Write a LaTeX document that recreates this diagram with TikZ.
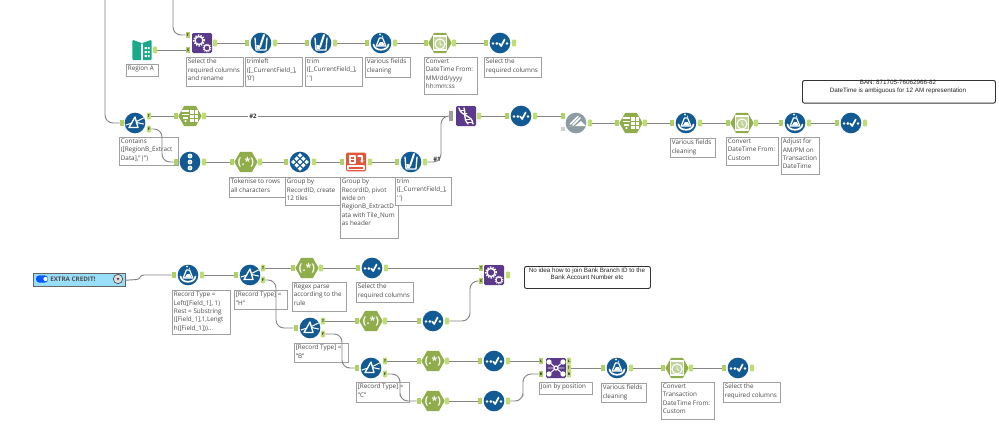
\documentclass[tikz,border=0pt]{standalone}
\usepackage{fontspec}
\setmainfont{Open Sans}
\newfontfamily\notefont{Liberation Sans}
\usetikzlibrary{shapes.geometric}
\definecolor{tblue}{HTML}{125A94}
\definecolor{tgreen}{HTML}{8FAD4B}
\definecolor{tpurple}{HTML}{5B3A8C}
\definecolor{tteal}{HTML}{1BA98C}
\definecolor{tred}{HTML}{E0573A}
\definecolor{tgray}{HTML}{8B9CA2}
\definecolor{tabg}{HTML}{BEDD75}
\definecolor{tabi}{HTML}{B0CF66}
\definecolor{conn}{HTML}{858585}
\definecolor{boxc}{HTML}{A0A0A0}
\definecolor{txtc}{HTML}{4A4A4A}
\tikzset{
  wire/.style={draw=conn,line width=0.7pt},
  wirebent/.style={wire,rounded corners=6pt},
  bluetool/.style={circle,fill=tblue,inner sep=0,minimum size=15.5pt},
  hextool/.style={regular polygon,regular polygon sides=6,fill=tgreen,inner sep=0,minimum size=17.5pt},
  squaretool/.style={rectangle,rounded corners=1pt,fill=tpurple,inner sep=0,minimum size=15pt},
  redtool/.style={rectangle,rounded corners=1pt,fill=tred,inner sep=0,minimum width=15pt,minimum height=14pt},
  graytool/.style={circle,fill=tgray,inner sep=0,minimum size=15.5pt},
  booktool/.style={rectangle,fill=tteal,rounded corners=.8pt,inner sep=0,minimum width=14.5pt,minimum height=15pt},
  intabst/.style={rectangle,fill=tabi,inner sep=0,minimum width=3pt,minimum height=4.6pt,font=\fontsize{2.6}{3}\selectfont\bfseries,text=black},
  outtabst/.style={rectangle,rounded corners=.8pt,fill=tabg,inner sep=0,minimum width=3.2pt,minimum height=5.2pt,font=\fontsize{2.6}{3}\selectfont\bfseries,text=black},
  lblst/.style={draw=boxc,line width=.8pt,fill=white,inner sep=1pt,anchor=north west,text=txtc,font=\fontsize{4.75}{6.25}\selectfont},
  notest/.style={draw=black!80,line width=.7pt,rounded corners=1.5pt,inner sep=0,anchor=north west,fill=white},
  notetxt/.style={font=\notefont\fontsize{4.7}{5.6}\selectfont,align=center,text=black!85,inner sep=0},
  wirelbl/.style={font=\fontsize{4.6}{5}\selectfont\bfseries,fill=white,inner sep=.6pt,text=black!80},
  gly/.style={draw=white,line width=.8pt,line cap=round,line join=round},
  glyf/.style={fill=white}
}
% tabs
\newcommand{\intab}[4]{\node[intabst] (#1) at (#2,#3) {#4};}
\newcommand{\outtab}[4]{\node[outtabst] (#1) at (#2,#3) {#4};}
\newcommand{\iotabs}[3]{\intab{#1-i}{#2-14}{#3}{}\outtab{#1-o}{#2+14}{#3}{}}
% labels
\newcommand{\lbl}[6]{\node[lblst] (#1) at (#2,#3) {\parbox[t][\dimexpr #5pt*3/4-2pt\relax][t]{\dimexpr #4pt*3/4-2pt\relax}{\raggedright #6}};}
% glyphs
\newcommand{\gSelect}[1]{\begin{scope}[shift={(#1)}]
  \fill[glyf] (-7,0.5) circle (1.1pt) (-3.2,0.5) circle (1.1pt) (7,0.5) circle (1.1pt);
  \draw[gly,line width=1.3pt] (-0.8,0.5) -- (1.2,3) -- (4.6,-3.5);
\end{scope}}
\newcommand{\gFlask}[1]{\begin{scope}[shift={(#1)}]
  \fill[glyf] (-1,-8.5) circle (.8pt) (1.5,-6.8) circle (.5pt);
  \draw[gly,line width=.9pt] (-1.6,-5) -- (1.6,-5) -- (4.8,3) -- (-4.8,3) -- cycle;
  \fill[glyf] (-3.2,2.6) -- (-1,-1) -- (2,-1) -- (3.5,2.6) -- cycle;
  \draw[gly,line width=1.3pt] (-7.5,1.5) .. controls (-6.5,8.5) and (6.5,8.5) .. (7.5,1.5);
\end{scope}}
\newcommand{\gTrim}[1]{\begin{scope}[shift={(#1)}]
  \draw[gly,line width=1pt] (-6,-5) -- (-5,7) -- (5,7) -- (6,-5);
  \draw[gly,line width=1.5pt] (-1,4) -- (3,-8);
  \fill[glyf] (-4.6,2) -- (-4.2,6.2) -- (-1,6.2) -- (-2,2) -- cycle;
\end{scope}}
\newcommand{\gFilter}[1]{\begin{scope}[shift={(#1)}]
  \draw[gly,line width=1pt] (-6,4.5) -- (0,-6) -- (3,4.5) -- cycle;
  \draw[gly,line width=.8pt] (-9,2) -- (-3,0) (1.5,-1.5) -- (8.5,-5) (1.5,-.5) -- (8.5,1);
\end{scope}}
\newcommand{\gRecId}[1]{\begin{scope}[shift={(#1)}]
  \fill[glyf] (0,-6) circle (1.8pt) (0,0) circle (1.8pt) (0,6) circle (1.8pt);
  \fill[tblue] (0,-6) circle (.5pt) (0,0) circle (.5pt) (0,6) circle (.5pt);
\end{scope}}
\newcommand{\gTile}[1]{\begin{scope}[shift={(#1)}]
  \foreach \a/\b in {0/-6.6,-3.3/-3.3,3.3/-3.3,-6.6/0,0/0,6.6/0,-3.3/3.3,3.3/3.3,0/6.6}
    \fill[glyf] (\a-2.3,\b) -- (\a,\b-2.3) -- (\a+2.3,\b) -- (\a,\b+2.3) -- cycle;
\end{scope}}
\newcommand{\gRegex}[1]{\node[text=white,font=\fontsize{8}{9}\selectfont\bfseries,inner sep=0] at (#1) {(.*)};}
\newcommand{\gTable}[1]{\begin{scope}[shift={(#1)}]
  \draw[gly,line width=.9pt] (-8,-5) -- (-1.5,-5) (-7.5,-1.5) -- (-1.5,-1.5) (-6.5,2) -- (-2.5,2) (-5,5) -- (-4,5);
  \fill[glyf] (0,-6) rectangle (8,6);
  \draw[tgreen,line width=.5pt] (0,-2) -- (8,-2) (0,2) -- (8,2) (4,-6) -- (4,6);
\end{scope}}
\newcommand{\gDate}[1]{\begin{scope}[shift={(#1)}]
  \fill[tgreen!55!white] (-7,-7) rectangle (7,7);
  \draw[gly,line width=.8pt] (-6.5,-7) -- (6.5,-7) -- (6.5,7) -- (-6.5,7) -- cycle;
  \draw[gly,line width=.8pt] (0,1) circle (3.8pt);
  \draw[gly,line width=.5pt] (0,-2) -- (0,1) -- (2,2.5);
\end{scope}}
\newcommand{\gGears}[1]{\begin{scope}[shift={(#1)}]
  \draw[gly,line width=1pt] (-3,-2.5) circle (3pt);
  \draw[gly,line width=1.2pt,line cap=butt,dash pattern=on 1pt off 1pt] (-3,-2.5) circle (4pt);
  \draw[gly,line width=.7pt] (5,5) circle (2.2pt);
  \draw[gly,line width=.8pt,line cap=butt,dash pattern=on .8pt off .8pt] (5,5) circle (2.9pt);
\end{scope}}
\newcommand{\gDna}[1]{\begin{scope}[shift={(#1)}]
  \draw[gly,line width=1pt] (-7,-8) .. controls (-5,1) and (6,-2) .. (7,8);
  \draw[gly,line width=1pt] (-2,-8) .. controls (0,-2) and (-3,3) .. (2,8);
  \draw[gly,line width=.6pt] (-5,-6) -- (-1,-6) (-3,-3) -- (1,-3) (0,3) -- (4,3) (2,6) -- (6,6);
\end{scope}}
\newcommand{\gJoin}[1]{\begin{scope}[shift={(#1)}]
  \draw[gly,line width=.7pt] (-7,-6) -- (7,6) (-7,6) -- (7,-6) (-8,0) -- (8,0);
  \fill[glyf] (-7,-6) circle (2pt) (7,-6) circle (2pt) (-7,6) circle (2pt) (7,6) circle (2pt) (0,0) circle (2pt);
  \fill[tpurple] (0,0) circle (1.1pt);
\end{scope}}
\newcommand{\gCross}[1]{\begin{scope}[shift={(#1)}]
  \draw[gly,line width=.9pt] (-6,-6) rectangle (-1,1);
  \draw[gly,line width=.8pt] (-6,-2.5) -- (-1,-2.5);
  \draw[gly,line width=.9pt] (2,-6) -- (6,-6) -- (6,-1);
  \fill[glyf] (4,-1.5) -- (8,-1.5) -- (6,1) -- cycle;
  \draw[gly,line width=.9pt] (-8,4) rectangle (8,7.5);
\end{scope}}
\newcommand{\gAuto}[1]{\begin{scope}[shift={(#1)}]
  \draw[gly,line width=1.3pt] (-5.5,1) -- (2,-6.5);
  \draw[gly,line width=1.3pt] (-3,2) -- (4,-5);
  \fill[glyf] (-8,3) -- (-1,3) -- (5,-2) -- (9.8,3) -- cycle;
\end{scope}}
\newcommand{\gBook}[1]{\begin{scope}[shift={(#1)}]
  \fill[white] (-10,-10.5) -- (0,-7) -- (10,-10.5) -- cycle;
  \draw[gly,line width=.9pt] (0,-6) -- (0,10);
  \fill[glyf] (2.5,-3) rectangle (5,-1) (6,-3) rectangle (7.5,-1) (2.5,1) rectangle (5,3) (6,1) rectangle (7.5,3) (2.5,5) rectangle (5,7) (6,5) rectangle (7.5,7);
\end{scope}}
% tool builders
\newcommand{\ctool}[4]{\node[bluetool] (#1) at (#2,#3) {};#4{#1}}
\newcommand{\htool}[4]{\node[hextool] (#1) at (#2,#3) {};#4{#1}}
\begin{document}
\begin{tikzpicture}[x=0.75pt,y=-0.75pt]
\useasboundingbox (0,0) rectangle (999,425);
\fill[white] (0,0) rectangle (999,425);
\coordinate (top1) at (105,0);
\coordinate (top2) at (173,0);

% ---------- row 1
\node[booktool] (book) at (142,50) {};\gBook{book}
\outtab{book-o}{155}{50}{}
\node[squaretool] (app1) at (202,43) {};\gGears{app1}
\intab{app1-t}{188}{35}{T}\intab{app1-s}{188}{50}{S}\outtab{app1-o}{215}{43}{}
\ctool{trl}{261}{43}{\gTrim}\iotabs{trl}{261}{43}
\ctool{trm}{321}{43}{\gTrim}\iotabs{trm}{321}{43}
\ctool{fl1}{381}{43}{\gFlask}\iotabs{fl1}{381}{43}
\htool{dt1}{440}{43}{\gDate}\iotabs{dt1}{440}{43}
\ctool{sl1}{500}{43}{\gSelect}\iotabs{sl1}{500}{43}
\lbl{lb-regiona}{126}{64}{32}{12}{Region A}
\lbl{lb-app1}{186}{57}{57}{29}{Select the\\required columns\\and rename}
\lbl{lb-trl}{245}{57}{57}{29}{trimleft\\([\_CurrentField\_],\\'0')}
\lbl{lb-trm}{305}{57}{57}{29}{trim\\([\_CurrentField\_],\\' ')}
\lbl{lb-fl1}{365}{57}{45}{20}{Various fields\\cleaning}
\lbl{lb-dt1}{424}{57}{53}{37}{Convert\\DateTime From:\\MM/dd/yyyy\\hh:mm:ss}
\lbl{lb-sl1}{484}{57}{57}{20}{Select the\\required columns}
\draw[wirebent] (top2) |- (app1-t.west);
\draw[wire] (book-o) -- (app1-s);
\draw[wire] (app1-o) -- (trl-i);
\draw[wire] (trl-o) -- (trm-i);
\draw[wire] (trm-o) -- (fl1-i);
\draw[wire] (fl1-o) -- (dt1-i);
\draw[wire] (dt1-o) -- (sl1-i);

% ---------- row 2
\ctool{flt1}{135}{123}{\gFilter}
\intab{flt1-i}{122}{123}{}\outtab{flt1-t}{149}{116}{T}\outtab{flt1-f}{149}{129}{F}
\htool{tb1}{190}{116}{\gTable}\iotabs{tb1}{190}{116}
\node[squaretool] (dna) at (466,116) {};\gDna{dna}
\node[rectangle,fill=gray!75,inner sep=0,minimum width=3.6pt,minimum height=7pt] (dna-i) at (451,116) {};
\outtab{dna-o}{479}{116}{}
\ctool{sl2}{521}{116}{\gSelect}\iotabs{sl2}{521}{116}
\node[graytool] (auto) at (576,123) {};\gAuto{auto}
\intab{auto-i}{563}{116}{}\outtab{auto-o}{590}{123}{}
\node[rectangle,fill=gray!35,inner sep=0,minimum size=3.6pt] (auto-x) at (563,129) {};
\htool{tb2}{631}{123}{\gTable}\iotabs{tb2}{631}{123}
\ctool{fl2}{686}{123}{\gFlask}\iotabs{fl2}{686}{123}
\htool{dt2}{742}{123}{\gDate}\iotabs{dt2}{742}{123}
\ctool{fl3}{795}{123}{\gFlask}\iotabs{fl3}{795}{123}
\ctool{sl3}{851}{123}{\gSelect}\iotabs{sl3}{851}{123}
\lbl{lb-flt1}{119}{137}{59}{28}{Contains\\([RegionB\_Extract\\Data],"|")}
\ctool{rid}{190}{162}{\gRecId}\iotabs{rid}{190}{162}
\htool{rx1}{246}{162}{\gRegex}\iotabs{rx1}{246}{162}
\ctool{tile}{300}{162}{\gTile}\iotabs{tile}{300}{162}
\node[redtool] (xt) at (356,162) {};\gCross{xt}\iotabs{xt}{356}{162}
\ctool{trm2}{411}{162}{\gTrim}\iotabs{trm2}{411}{162}
\lbl{lb-rx1}{229}{177}{56}{20}{Tokenise to rows\\all characters}
\lbl{lb-tile}{285}{177}{57}{28}{Group by\\RecordID, create\\12 tiles}
\lbl{lb-xt}{340}{177}{58}{61}{Group by\\RecordID, pivot\\wide on\\RegionB\_ExtractD\\ata with Tile\_Num\\as header}
\lbl{lb-trm2}{395}{177}{56}{28}{trim\\([\_CurrentField\_],\\' ')}
\lbl{lb-fl2}{670}{138}{45}{19}{Various fields\\cleaning}
\lbl{lb-dt2}{726}{137}{52}{28}{Convert\\DateTime From:\\Custom}
\lbl{lb-fl3}{781}{137}{38}{37}{Adjust for\\AM/PM on\\Transaction\\DateTime}
\draw[wirebent] (top1) |- (flt1-i.west);
\draw[wire] (flt1-t) -- (tb1-i);
\draw[wire] (tb1-o) -- (dna-i.west);
\node[wirelbl] (lab2) at (253,116) {\#2};
\draw[wirebent] (flt1-f.east) -| (162,145) |- (rid-i.west);
\draw[wire] (rid-o) -- (rx1-i);
\draw[wire] (rx1-o) -- (tile-i);
\draw[wire] (tile-o) -- (xt-i);
\draw[wire] (xt-o) -- (trm2-i);
\draw[wirebent] (trm2-o.east) -| (441,140) |- (dna-i.west);
\node[wirelbl,fill=none] (lab1) at (437,159) {\#1};
\draw[wire] (dna-o) -- (sl2-i);
\draw[wire] (sl2-o) -- (auto-i);
\draw[wire] (auto-o) -- (tb2-i);
\draw[wire] (tb2-o) -- (fl2-i);
\draw[wire] (fl2-o) -- (dt2-i);
\draw[wire] (dt2-o) -- (fl3-i);
\draw[wire] (fl3-o) -- (sl3-i);
\node[notest,minimum width=144.75pt,minimum height=17pt] (note1) at (802,80) {};
\node[notetxt] (note1t) at (898,87) {BAN: 871705-76062966-82\\DateTime is ambiguous for 12 AM representation};

% ---------- extra credit
\node[rectangle,draw=black!60,line width=.8pt,fill=cyan!40,inner sep=0,minimum width=69pt,minimum height=10pt,anchor=north west] (ec) at (33,273) {};
\node[rectangle,rounded corners=2.5pt,fill=blue!65!cyan,inner sep=0,minimum width=9pt,minimum height=5.5pt] (ectog) at (42,279) {};
\fill[white] (45.5,279) circle (1.6pt);
\node[anchor=west,inner sep=0,font=\fontsize{4.7}{6}\selectfont\bfseries,text=black!70] (ectxt) at (50,279) {EXTRA CREDIT!};
\node[circle,draw=black!70,line width=.5pt,fill=black!12,inner sep=0,minimum size=7pt] (ecdd) at (118,279) {};
\fill[black!70] (116.5,278) -- (119.5,278) -- (118,280.5) -- cycle;

\ctool{fl4}{188}{275}{\gFlask}\iotabs{fl4}{188}{275}
\ctool{flt2}{250}{275}{\gFilter}
\intab{flt2-i}{236}{275}{}\outtab{flt2-t}{263}{268}{T}\outtab{flt2-f}{263}{280}{F}
\htool{rx2}{307}{268}{\gRegex}\iotabs{rx2}{307}{268}
\ctool{sl4}{372}{268}{\gSelect}\iotabs{sl4}{372}{268}
\node[squaretool] (app2) at (494,275) {};\gGears{app2}
\intab{app2-t}{481}{268}{T}\intab{app2-s}{481}{281}{S}\outtab{app2-o}{508}{275}{}
\lbl{lb-fl4}{172}{290}{58}{44}{Record Type =\\Left([Field\_1], 1)\\Rest = Substring\\([Field\_1],1,Lengt\\h([Field\_1]))...}
\lbl{lb-flt2}{234}{290}{53}{19}{[Record Type] =\\"H"}
\lbl{lb-rx2}{292}{282}{54}{29}{Regex parse\\according to the\\rule}
\lbl{lb-sl4}{356}{282}{57}{20}{Select the\\required columns}
\node[notest,minimum width=94.5pt,minimum height=16.5pt] (note2) at (524,266) {};
\node[notetxt] (note2t) at (587,273.5) {No idea how to join Bank Branch ID to the\\Bank Account Number etc};

\ctool{flt3}{310}{328}{\gFilter}
\intab{flt3-i}{296}{328}{}\outtab{flt3-t}{323}{321}{T}\outtab{flt3-f}{323}{334}{F}
\htool{rx3}{371}{321}{\gRegex}\iotabs{rx3}{371}{321}
\ctool{sl5}{433}{321}{\gSelect}\iotabs{sl5}{433}{321}
\lbl{lb-flt3}{294}{343}{54}{19}{[Record Type] =\\"B"}
\ctool{flt4}{371}{368}{\gFilter}
\intab{flt4-i}{357}{368}{}\outtab{flt4-t}{385}{361}{T}\outtab{flt4-f}{385}{374}{F}
\lbl{lb-flt4}{356}{382}{53}{20}{[Record Type] =\\"C"}
\htool{rx4}{433}{361}{\gRegex}\iotabs{rx4}{433}{361}
\ctool{sl6}{494}{361}{\gSelect}\iotabs{sl6}{494}{361}
\htool{rx5}{433}{401}{\gRegex}\iotabs{rx5}{433}{401}
\ctool{sl7}{494}{401}{\gSelect}\iotabs{sl7}{494}{401}
\node[squaretool] (jn) at (556,368) {};\gJoin{jn}
\intab{jn-l}{541}{361}{L}\intab{jn-r}{541}{374}{R}
\outtab{jn-ol}{569}{361}{L}\outtab{jn-oj}{569}{368}{J}\outtab{jn-or}{569}{374}{R}
\lbl{lb-jn}{539}{382}{53}{12}{Join by position}
\ctool{fl5}{617}{368}{\gFlask}\iotabs{fl5}{617}{368}
\lbl{lb-fl5}{601}{383}{45}{19}{Various fields\\cleaning}
\htool{dt3}{677}{368}{\gDate}\iotabs{dt3}{677}{368}
\lbl{lb-dt3}{661}{382}{53}{37}{Convert\\Transaction\\DateTime From:\\Custom}
\ctool{sl8}{738}{368}{\gSelect}\iotabs{sl8}{738}{368}
\lbl{lb-sl8}{723}{382}{57}{20}{Select the\\required columns}

\draw[wire] (ec.east) -- (137,279.5) .. controls (141,279.5) and (139,275) .. (144,275) -- (fl4-i.west);
\draw[wire] (fl4-o) -- (flt2-i);
\draw[wire] (flt2-t) -- (rx2-i);
\draw[wire] (rx2-o) -- (sl4-i);
\draw[wire] (sl4-o) -- (app2-t);
\draw[wirebent] (flt2-f.east) -| (276,304) |- (flt3-i.west);
\draw[wire] (flt3-t) -- (rx3-i);
\draw[wire] (rx3-o) -- (sl5-i);
\draw[wirebent] (sl5-o.east) -| (470,300) |- (app2-s.west);
\draw[wirebent] (flt3-f.east) -| (342,351) |- (flt4-i.west);
\draw[wire] (flt4-t) -- (rx4-i);
\draw[wire] (rx4-o) -- (sl6-i);
\draw[wirebent] (flt4-f.east) -| (400,388) |- (rx5-i.west);
\draw[wire] (rx5-o) -- (sl7-i);
\draw[wire] (sl6-o) -- (jn-l);
\draw[wirebent] (sl7-o.east) -| (523,388) |- (jn-r.west);
\draw[wire] (jn-oj) -- (fl5-i);
\draw[wire] (fl5-o) -- (dt3-i);
\draw[wire] (dt3-o) -- (sl8-i);
\end{tikzpicture}
\end{document}
